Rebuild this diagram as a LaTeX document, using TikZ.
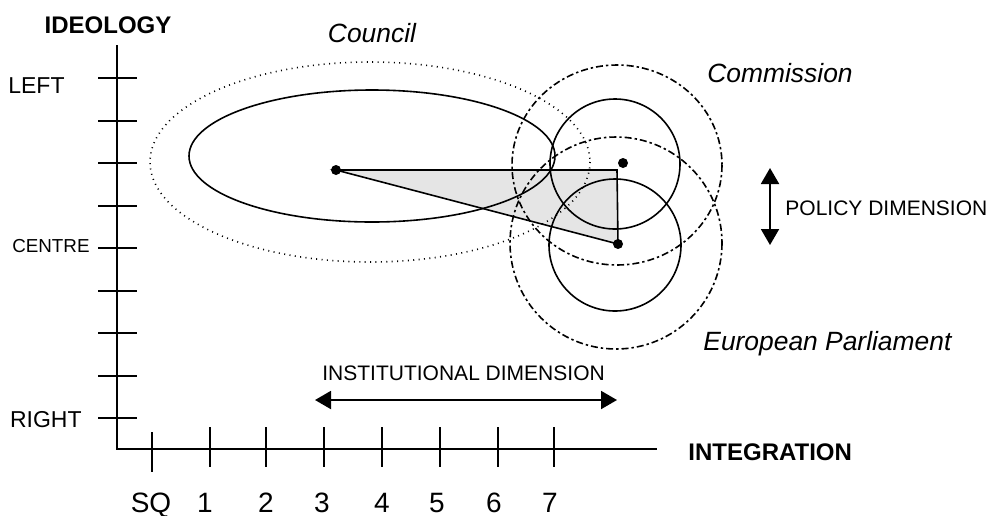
\documentclass[tikz,border=0pt]{standalone}
\usepackage{fontspec}
\setmainfont{Liberation Sans}
\usetikzlibrary{arrows.meta, positioning, calc}

\begin{document}
\begin{tikzpicture}[x=0.5pt, y=-0.5pt,
    axisline/.style={line width=1pt},
    tickline/.style={line width=1pt},
    lbl/.style={inner sep=0pt, font=\fontsize{11.5}{13}\selectfont},
    axname/.style={inner sep=0pt, font=\fontsize{12}{14}\selectfont\bfseries},
    num/.style={inner sep=0pt, anchor=base, font=\fontsize{14}{16}\selectfont},
    dimtext/.style={inner sep=0pt, font=\fontsize{10.5}{12}\selectfont},
    inst/.style={inner sep=0pt, font=\fontsize{13.2}{15}\selectfont\itshape},
    stance/.style={line width=0.8pt},
    reach/.style={line width=0.8pt, dash pattern=on 3.5pt off 1.5pt on 1.2pt off 1.5pt},
    councilreach/.style={line width=0.8pt, dash pattern=on 0.5pt off 2.2pt},
    dot/.style={circle, fill, inner sep=0pt, minimum size=5pt},
    arr/.style={{Triangle[length=8pt,width=9pt]}-{Triangle[length=8pt,width=9pt]}, line width=1pt},
  ]
    \useasboundingbox (0,0) rectangle (989,515);

    % Positions
    \coordinate (cnlpt) at (336,170);
    \coordinate (corner) at (617,170);
    \coordinate (ept) at (618,244);
    \coordinate (compt) at (623,163);

    % Triangle between the positions
    \filldraw[fill=black!10, stance] (cnlpt) -- (corner) -- (ept) -- cycle;

    % Council
    \draw[stance] (372,156) ellipse [x radius=183, y radius=66];
    \draw[councilreach] (370,162) ellipse [x radius=220, y radius=100];

    % Commission
    \draw[stance] (615,164) circle [radius=65];
    \draw[reach] (617,165) ellipse [x radius=105, y radius=100];

    % European Parliament
    \draw[stance] (615,245) circle [radius=66];
    \draw[reach] (616,243) circle [radius=106];

    % Dots
    \node[dot] (council) at (cnlpt) {};
    \node[dot] (commission) at (compt) {};
    \node[dot] (parliament) at (ept) {};

    % Axes
    \coordinate (ytop) at (117,45);
    \coordinate (origin) at (117,449);
    \coordinate (xend) at (657,449);
    \draw[axisline] (ytop) -- (origin) -- (xend);
    \foreach \y in {78,120.5,163,205.5,248,290.5,333,375.5,418}
      \draw[tickline] (98,\y) -- (137,\y);
    \draw[tickline] (152,432) -- (152,472);
    \foreach \x in {210,266,324,382,440,498,554}
      \draw[tickline] (\x,427) -- (\x,467);
    \foreach \x/\t in {151/SQ,205/1,266/2,322/3,382/4,437/5,494/6,550/7}
      \node[num] (n\t) at (\x,512) {\t};

    % Axis names
    \node[axname, anchor=base] (ideology) at (108,33) {IDEOLOGY};
    \node[axname, anchor=base west] (integration) at (688,460) {INTEGRATION};
    \node[lbl, anchor=base east] (leftlbl) at (65,93) {LEFT};
    \node[lbl, anchor=base east, font=\fontsize{9.4}{11}\selectfont] (centrelbl) at (90,252) {CENTRE};
    \node[lbl, anchor=base east] (rightlbl) at (82,427) {RIGHT};

    % Institutions
    \node[inst, anchor=base] (councillbl) at (372,42) {Council};
    \node[inst, anchor=base west] (commissionlbl) at (707,82) {Commission};
    \node[inst, anchor=base west] (parliamentlbl) at (703,350) {European Parliament};

    % Dimensions
    \coordinate (ptop) at (770,168);
    \coordinate (pbot) at (770,245);
    \draw[arr] (ptop) -- (pbot);
    \node[dimtext, anchor=base west] (policydim) at (785,215) {POLICY DIMENSION};
    \coordinate (ileft) at (315,400);
    \coordinate (iright) at (617,400);
    \draw[arr] (ileft) -- (iright);
    \node[dimtext, anchor=base west] (instdim) at (322,380) {INSTITUTIONAL DIMENSION};
\end{tikzpicture}
\end{document}
